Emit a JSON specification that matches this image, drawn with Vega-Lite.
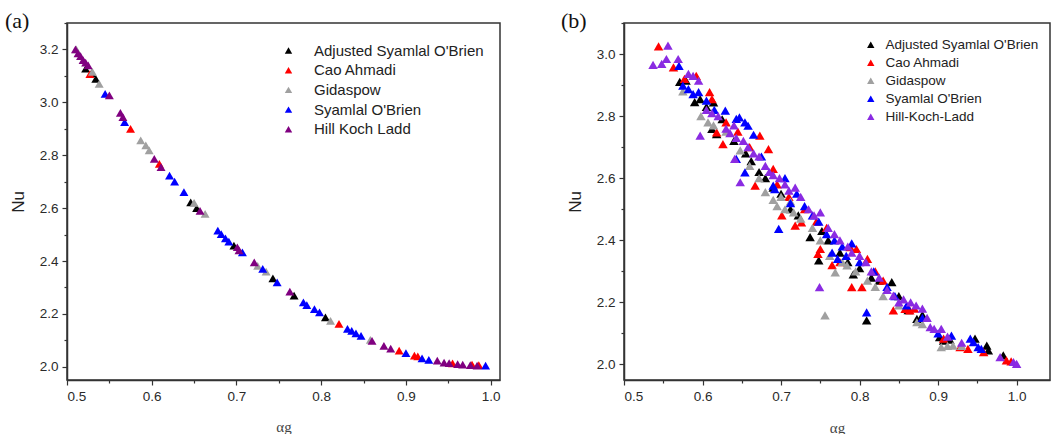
{
  "$schema": "https://vega.github.io/schema/vega-lite/v6.json",
  "background": "white",
  "padding": {"left": 4, "top": 9, "right": 0, "bottom": 0},
  "bounds": "flush",
  "spacing": 124,
  "config": {
    "view": {"stroke": "#333", "strokeWidth": 1.5},
    "axis": {
      "grid": false, "domainColor": "#333", "domainWidth": 1.5, "tickColor": "#333", "tickWidth": 1.2,
      "labelFont": "Liberation Sans", "labelFontSize": 13.5, "labelColor": "#2a2a2a", "labelPadding": 4,
      "titleFont": "Liberation Sans", "titleColor": "#222"
    },
    "legend": {"labelFont": "Liberation Sans", "labelColor": "#222", "padding": 0, "symbolType": "triangle-up", "symbolStrokeWidth": 0, "labelLimit": 400}
  },
  "datasets": {
    "a": [
      {"model": "Adjusted Syamlal O'Brien", "alpha": 0.522, "Nu": 3.127},
      {"model": "Adjusted Syamlal O'Brien", "alpha": 0.529, "Nu": 3.11},
      {"model": "Adjusted Syamlal O'Brien", "alpha": 0.534, "Nu": 3.089},
      {"model": "Adjusted Syamlal O'Brien", "alpha": 0.646, "Nu": 2.622},
      {"model": "Adjusted Syamlal O'Brien", "alpha": 0.653, "Nu": 2.6},
      {"model": "Adjusted Syamlal O'Brien", "alpha": 0.697, "Nu": 2.458},
      {"model": "Adjusted Syamlal O'Brien", "alpha": 0.743, "Nu": 2.334},
      {"model": "Adjusted Syamlal O'Brien", "alpha": 0.768, "Nu": 2.269},
      {"model": "Adjusted Syamlal O'Brien", "alpha": 0.805, "Nu": 2.187},
      {"model": "Cao Ahmadi", "alpha": 0.527, "Nu": 3.107},
      {"model": "Cao Ahmadi", "alpha": 0.575, "Nu": 2.9},
      {"model": "Cao Ahmadi", "alpha": 0.609, "Nu": 2.767},
      {"model": "Cao Ahmadi", "alpha": 0.821, "Nu": 2.162},
      {"model": "Cao Ahmadi", "alpha": 0.892, "Nu": 2.061},
      {"model": "Cao Ahmadi", "alpha": 0.91, "Nu": 2.042},
      {"model": "Cao Ahmadi", "alpha": 0.914, "Nu": 2.039},
      {"model": "Cao Ahmadi", "alpha": 0.955, "Nu": 2.013},
      {"model": "Cao Ahmadi", "alpha": 0.978, "Nu": 2.008},
      {"model": "Cao Ahmadi", "alpha": 0.986, "Nu": 2.006},
      {"model": "Gidaspow", "alpha": 0.511, "Nu": 3.2},
      {"model": "Gidaspow", "alpha": 0.53, "Nu": 3.115},
      {"model": "Gidaspow", "alpha": 0.538, "Nu": 3.07},
      {"model": "Gidaspow", "alpha": 0.587, "Nu": 2.856},
      {"model": "Gidaspow", "alpha": 0.593, "Nu": 2.837},
      {"model": "Gidaspow", "alpha": 0.597, "Nu": 2.818},
      {"model": "Gidaspow", "alpha": 0.65, "Nu": 2.62},
      {"model": "Gidaspow", "alpha": 0.663, "Nu": 2.578},
      {"model": "Gidaspow", "alpha": 0.725, "Nu": 2.382},
      {"model": "Gidaspow", "alpha": 0.735, "Nu": 2.36},
      {"model": "Gidaspow", "alpha": 0.811, "Nu": 2.174},
      {"model": "Gidaspow", "alpha": 0.858, "Nu": 2.102},
      {"model": "Syamlal O'Brien", "alpha": 0.545, "Nu": 3.032},
      {"model": "Syamlal O'Brien", "alpha": 0.568, "Nu": 2.925},
      {"model": "Syamlal O'Brien", "alpha": 0.621, "Nu": 2.723},
      {"model": "Syamlal O'Brien", "alpha": 0.627, "Nu": 2.7},
      {"model": "Syamlal O'Brien", "alpha": 0.638, "Nu": 2.66},
      {"model": "Syamlal O'Brien", "alpha": 0.678, "Nu": 2.515},
      {"model": "Syamlal O'Brien", "alpha": 0.682, "Nu": 2.502},
      {"model": "Syamlal O'Brien", "alpha": 0.687, "Nu": 2.486},
      {"model": "Syamlal O'Brien", "alpha": 0.691, "Nu": 2.473},
      {"model": "Syamlal O'Brien", "alpha": 0.707, "Nu": 2.433},
      {"model": "Syamlal O'Brien", "alpha": 0.731, "Nu": 2.37},
      {"model": "Syamlal O'Brien", "alpha": 0.748, "Nu": 2.319},
      {"model": "Syamlal O'Brien", "alpha": 0.779, "Nu": 2.244},
      {"model": "Syamlal O'Brien", "alpha": 0.783, "Nu": 2.233},
      {"model": "Syamlal O'Brien", "alpha": 0.792, "Nu": 2.218},
      {"model": "Syamlal O'Brien", "alpha": 0.798, "Nu": 2.206},
      {"model": "Syamlal O'Brien", "alpha": 0.831, "Nu": 2.143},
      {"model": "Syamlal O'Brien", "alpha": 0.836, "Nu": 2.136},
      {"model": "Syamlal O'Brien", "alpha": 0.841, "Nu": 2.126},
      {"model": "Syamlal O'Brien", "alpha": 0.847, "Nu": 2.117},
      {"model": "Syamlal O'Brien", "alpha": 0.9, "Nu": 2.052},
      {"model": "Syamlal O'Brien", "alpha": 0.919, "Nu": 2.032},
      {"model": "Syamlal O'Brien", "alpha": 0.927, "Nu": 2.026},
      {"model": "Syamlal O'Brien", "alpha": 0.994, "Nu": 2.004},
      {"model": "Hill Koch Ladd", "alpha": 0.51, "Nu": 3.2},
      {"model": "Hill Koch Ladd", "alpha": 0.513, "Nu": 3.185},
      {"model": "Hill Koch Ladd", "alpha": 0.516, "Nu": 3.175},
      {"model": "Hill Koch Ladd", "alpha": 0.519, "Nu": 3.16},
      {"model": "Hill Koch Ladd", "alpha": 0.522, "Nu": 3.15},
      {"model": "Hill Koch Ladd", "alpha": 0.525, "Nu": 3.14},
      {"model": "Hill Koch Ladd", "alpha": 0.55, "Nu": 3.026},
      {"model": "Hill Koch Ladd", "alpha": 0.563, "Nu": 2.96},
      {"model": "Hill Koch Ladd", "alpha": 0.566, "Nu": 2.944},
      {"model": "Hill Koch Ladd", "alpha": 0.603, "Nu": 2.786},
      {"model": "Hill Koch Ladd", "alpha": 0.611, "Nu": 2.755},
      {"model": "Hill Koch Ladd", "alpha": 0.657, "Nu": 2.59},
      {"model": "Hill Koch Ladd", "alpha": 0.701, "Nu": 2.452},
      {"model": "Hill Koch Ladd", "alpha": 0.703, "Nu": 2.44},
      {"model": "Hill Koch Ladd", "alpha": 0.721, "Nu": 2.395},
      {"model": "Hill Koch Ladd", "alpha": 0.763, "Nu": 2.284},
      {"model": "Hill Koch Ladd", "alpha": 0.86, "Nu": 2.098},
      {"model": "Hill Koch Ladd", "alpha": 0.874, "Nu": 2.079},
      {"model": "Hill Koch Ladd", "alpha": 0.882, "Nu": 2.069},
      {"model": "Hill Koch Ladd", "alpha": 0.937, "Nu": 2.023},
      {"model": "Hill Koch Ladd", "alpha": 0.945, "Nu": 2.016},
      {"model": "Hill Koch Ladd", "alpha": 0.951, "Nu": 2.014},
      {"model": "Hill Koch Ladd", "alpha": 0.961, "Nu": 2.01},
      {"model": "Hill Koch Ladd", "alpha": 0.967, "Nu": 2.008},
      {"model": "Hill Koch Ladd", "alpha": 0.976, "Nu": 2.006},
      {"model": "Hill Koch Ladd", "alpha": 0.984, "Nu": 2.004}
    ],
    "b": [
      {"model": "Adjusted Syamlal O'Brien", "alpha": 0.571, "Nu": 2.91},
      {"model": "Adjusted Syamlal O'Brien", "alpha": 0.579, "Nu": 2.914},
      {"model": "Adjusted Syamlal O'Brien", "alpha": 0.59, "Nu": 2.845},
      {"model": "Adjusted Syamlal O'Brien", "alpha": 0.597, "Nu": 2.855},
      {"model": "Adjusted Syamlal O'Brien", "alpha": 0.605, "Nu": 2.83},
      {"model": "Adjusted Syamlal O'Brien", "alpha": 0.614, "Nu": 2.844},
      {"model": "Adjusted Syamlal O'Brien", "alpha": 0.612, "Nu": 2.759},
      {"model": "Adjusted Syamlal O'Brien", "alpha": 0.618, "Nu": 2.742},
      {"model": "Adjusted Syamlal O'Brien", "alpha": 0.625, "Nu": 2.79},
      {"model": "Adjusted Syamlal O'Brien", "alpha": 0.64, "Nu": 2.72},
      {"model": "Adjusted Syamlal O'Brien", "alpha": 0.655, "Nu": 2.68},
      {"model": "Adjusted Syamlal O'Brien", "alpha": 0.662, "Nu": 2.655},
      {"model": "Adjusted Syamlal O'Brien", "alpha": 0.672, "Nu": 2.62},
      {"model": "Adjusted Syamlal O'Brien", "alpha": 0.68, "Nu": 2.6},
      {"model": "Adjusted Syamlal O'Brien", "alpha": 0.69, "Nu": 2.57},
      {"model": "Adjusted Syamlal O'Brien", "alpha": 0.7, "Nu": 2.55},
      {"model": "Adjusted Syamlal O'Brien", "alpha": 0.712, "Nu": 2.5},
      {"model": "Adjusted Syamlal O'Brien", "alpha": 0.722, "Nu": 2.48},
      {"model": "Adjusted Syamlal O'Brien", "alpha": 0.737, "Nu": 2.41},
      {"model": "Adjusted Syamlal O'Brien", "alpha": 0.748, "Nu": 2.335},
      {"model": "Adjusted Syamlal O'Brien", "alpha": 0.752, "Nu": 2.43},
      {"model": "Adjusted Syamlal O'Brien", "alpha": 0.76, "Nu": 2.4},
      {"model": "Adjusted Syamlal O'Brien", "alpha": 0.775, "Nu": 2.36},
      {"model": "Adjusted Syamlal O'Brien", "alpha": 0.785, "Nu": 2.33},
      {"model": "Adjusted Syamlal O'Brien", "alpha": 0.792, "Nu": 2.29},
      {"model": "Adjusted Syamlal O'Brien", "alpha": 0.8, "Nu": 2.31},
      {"model": "Adjusted Syamlal O'Brien", "alpha": 0.809, "Nu": 2.142},
      {"model": "Adjusted Syamlal O'Brien", "alpha": 0.815, "Nu": 2.28},
      {"model": "Adjusted Syamlal O'Brien", "alpha": 0.825, "Nu": 2.27},
      {"model": "Adjusted Syamlal O'Brien", "alpha": 0.841, "Nu": 2.265},
      {"model": "Adjusted Syamlal O'Brien", "alpha": 0.85, "Nu": 2.22},
      {"model": "Adjusted Syamlal O'Brien", "alpha": 0.862, "Nu": 2.175},
      {"model": "Adjusted Syamlal O'Brien", "alpha": 0.873, "Nu": 2.147},
      {"model": "Adjusted Syamlal O'Brien", "alpha": 0.88, "Nu": 2.16},
      {"model": "Adjusted Syamlal O'Brien", "alpha": 0.902, "Nu": 2.088},
      {"model": "Adjusted Syamlal O'Brien", "alpha": 0.907, "Nu": 2.077},
      {"model": "Adjusted Syamlal O'Brien", "alpha": 0.915, "Nu": 2.08},
      {"model": "Adjusted Syamlal O'Brien", "alpha": 0.947, "Nu": 2.083},
      {"model": "Adjusted Syamlal O'Brien", "alpha": 0.962, "Nu": 2.061},
      {"model": "Adjusted Syamlal O'Brien", "alpha": 0.964, "Nu": 2.045},
      {"model": "Adjusted Syamlal O'Brien", "alpha": 0.983, "Nu": 2.029},
      {"model": "Cao Ahmadi", "alpha": 0.544, "Nu": 3.025},
      {"model": "Cao Ahmadi", "alpha": 0.563, "Nu": 2.957},
      {"model": "Cao Ahmadi", "alpha": 0.577, "Nu": 2.92},
      {"model": "Cao Ahmadi", "alpha": 0.592, "Nu": 2.93},
      {"model": "Cao Ahmadi", "alpha": 0.609, "Nu": 2.877},
      {"model": "Cao Ahmadi", "alpha": 0.612, "Nu": 2.855},
      {"model": "Cao Ahmadi", "alpha": 0.618, "Nu": 2.748},
      {"model": "Cao Ahmadi", "alpha": 0.626, "Nu": 2.71},
      {"model": "Cao Ahmadi", "alpha": 0.63, "Nu": 2.78},
      {"model": "Cao Ahmadi", "alpha": 0.645, "Nu": 2.75},
      {"model": "Cao Ahmadi", "alpha": 0.66, "Nu": 2.7},
      {"model": "Cao Ahmadi", "alpha": 0.667, "Nu": 2.576},
      {"model": "Cao Ahmadi", "alpha": 0.673, "Nu": 2.737},
      {"model": "Cao Ahmadi", "alpha": 0.684, "Nu": 2.694},
      {"model": "Cao Ahmadi", "alpha": 0.69, "Nu": 2.63},
      {"model": "Cao Ahmadi", "alpha": 0.695, "Nu": 2.58},
      {"model": "Cao Ahmadi", "alpha": 0.701, "Nu": 2.48},
      {"model": "Cao Ahmadi", "alpha": 0.71, "Nu": 2.54},
      {"model": "Cao Ahmadi", "alpha": 0.718, "Nu": 2.447},
      {"model": "Cao Ahmadi", "alpha": 0.726, "Nu": 2.458},
      {"model": "Cao Ahmadi", "alpha": 0.73, "Nu": 2.5},
      {"model": "Cao Ahmadi", "alpha": 0.745, "Nu": 2.46},
      {"model": "Cao Ahmadi", "alpha": 0.747, "Nu": 2.356},
      {"model": "Cao Ahmadi", "alpha": 0.75, "Nu": 2.372},
      {"model": "Cao Ahmadi", "alpha": 0.758, "Nu": 2.44},
      {"model": "Cao Ahmadi", "alpha": 0.765, "Nu": 2.32},
      {"model": "Cao Ahmadi", "alpha": 0.775, "Nu": 2.33},
      {"model": "Cao Ahmadi", "alpha": 0.788, "Nu": 2.378},
      {"model": "Cao Ahmadi", "alpha": 0.796, "Nu": 2.372},
      {"model": "Cao Ahmadi", "alpha": 0.79, "Nu": 2.249},
      {"model": "Cao Ahmadi", "alpha": 0.803, "Nu": 2.249},
      {"model": "Cao Ahmadi", "alpha": 0.81, "Nu": 2.34},
      {"model": "Cao Ahmadi", "alpha": 0.82, "Nu": 2.3},
      {"model": "Cao Ahmadi", "alpha": 0.83, "Nu": 2.27},
      {"model": "Cao Ahmadi", "alpha": 0.843, "Nu": 2.174},
      {"model": "Cao Ahmadi", "alpha": 0.858, "Nu": 2.179},
      {"model": "Cao Ahmadi", "alpha": 0.864, "Nu": 2.174},
      {"model": "Cao Ahmadi", "alpha": 0.87, "Nu": 2.18},
      {"model": "Cao Ahmadi", "alpha": 0.907, "Nu": 2.083},
      {"model": "Cao Ahmadi", "alpha": 0.928, "Nu": 2.056},
      {"model": "Cao Ahmadi", "alpha": 0.938, "Nu": 2.05},
      {"model": "Cao Ahmadi", "alpha": 0.958, "Nu": 2.04},
      {"model": "Cao Ahmadi", "alpha": 0.987, "Nu": 2.013},
      {"model": "Cao Ahmadi", "alpha": 0.993, "Nu": 2.01},
      {"model": "Gidaspow", "alpha": 0.575, "Nu": 2.88},
      {"model": "Gidaspow", "alpha": 0.598, "Nu": 2.8},
      {"model": "Gidaspow", "alpha": 0.607, "Nu": 2.78},
      {"model": "Gidaspow", "alpha": 0.614, "Nu": 2.77},
      {"model": "Gidaspow", "alpha": 0.63, "Nu": 2.75},
      {"model": "Gidaspow", "alpha": 0.648, "Nu": 2.69},
      {"model": "Gidaspow", "alpha": 0.66, "Nu": 2.64},
      {"model": "Gidaspow", "alpha": 0.672, "Nu": 2.6},
      {"model": "Gidaspow", "alpha": 0.68, "Nu": 2.555},
      {"model": "Gidaspow", "alpha": 0.69, "Nu": 2.53},
      {"model": "Gidaspow", "alpha": 0.695, "Nu": 2.51},
      {"model": "Gidaspow", "alpha": 0.7, "Nu": 2.54},
      {"model": "Gidaspow", "alpha": 0.705, "Nu": 2.5},
      {"model": "Gidaspow", "alpha": 0.712, "Nu": 2.525},
      {"model": "Gidaspow", "alpha": 0.716, "Nu": 2.49},
      {"model": "Gidaspow", "alpha": 0.725, "Nu": 2.47},
      {"model": "Gidaspow", "alpha": 0.74, "Nu": 2.44},
      {"model": "Gidaspow", "alpha": 0.75, "Nu": 2.4},
      {"model": "Gidaspow", "alpha": 0.756, "Nu": 2.158},
      {"model": "Gidaspow", "alpha": 0.762, "Nu": 2.35},
      {"model": "Gidaspow", "alpha": 0.769, "Nu": 2.297},
      {"model": "Gidaspow", "alpha": 0.778, "Nu": 2.33},
      {"model": "Gidaspow", "alpha": 0.784, "Nu": 2.319},
      {"model": "Gidaspow", "alpha": 0.795, "Nu": 2.3},
      {"model": "Gidaspow", "alpha": 0.81, "Nu": 2.27},
      {"model": "Gidaspow", "alpha": 0.82, "Nu": 2.25},
      {"model": "Gidaspow", "alpha": 0.83, "Nu": 2.22},
      {"model": "Gidaspow", "alpha": 0.85, "Nu": 2.19},
      {"model": "Gidaspow", "alpha": 0.873, "Nu": 2.136},
      {"model": "Gidaspow", "alpha": 0.88, "Nu": 2.13},
      {"model": "Gidaspow", "alpha": 0.904, "Nu": 2.056},
      {"model": "Gidaspow", "alpha": 0.912, "Nu": 2.06},
      {"model": "Gidaspow", "alpha": 0.919, "Nu": 2.061},
      {"model": "Gidaspow", "alpha": 0.93, "Nu": 2.06},
      {"model": "Syamlal O'Brien", "alpha": 0.57, "Nu": 2.962},
      {"model": "Syamlal O'Brien", "alpha": 0.575, "Nu": 2.898},
      {"model": "Syamlal O'Brien", "alpha": 0.582, "Nu": 2.887},
      {"model": "Syamlal O'Brien", "alpha": 0.588, "Nu": 2.871},
      {"model": "Syamlal O'Brien", "alpha": 0.595, "Nu": 2.877},
      {"model": "Syamlal O'Brien", "alpha": 0.605, "Nu": 2.85},
      {"model": "Syamlal O'Brien", "alpha": 0.615, "Nu": 2.82},
      {"model": "Syamlal O'Brien", "alpha": 0.629, "Nu": 2.818},
      {"model": "Syamlal O'Brien", "alpha": 0.643, "Nu": 2.791},
      {"model": "Syamlal O'Brien", "alpha": 0.647, "Nu": 2.796},
      {"model": "Syamlal O'Brien", "alpha": 0.654, "Nu": 2.78},
      {"model": "Syamlal O'Brien", "alpha": 0.658, "Nu": 2.769},
      {"model": "Syamlal O'Brien", "alpha": 0.643, "Nu": 2.662},
      {"model": "Syamlal O'Brien", "alpha": 0.654, "Nu": 2.619},
      {"model": "Syamlal O'Brien", "alpha": 0.665, "Nu": 2.74},
      {"model": "Syamlal O'Brien", "alpha": 0.675, "Nu": 2.67},
      {"model": "Syamlal O'Brien", "alpha": 0.69, "Nu": 2.576},
      {"model": "Syamlal O'Brien", "alpha": 0.692, "Nu": 2.565},
      {"model": "Syamlal O'Brien", "alpha": 0.697, "Nu": 2.437},
      {"model": "Syamlal O'Brien", "alpha": 0.705, "Nu": 2.6},
      {"model": "Syamlal O'Brien", "alpha": 0.712, "Nu": 2.52},
      {"model": "Syamlal O'Brien", "alpha": 0.72, "Nu": 2.55},
      {"model": "Syamlal O'Brien", "alpha": 0.73, "Nu": 2.51},
      {"model": "Syamlal O'Brien", "alpha": 0.74, "Nu": 2.48},
      {"model": "Syamlal O'Brien", "alpha": 0.748, "Nu": 2.46},
      {"model": "Syamlal O'Brien", "alpha": 0.758, "Nu": 2.42},
      {"model": "Syamlal O'Brien", "alpha": 0.765, "Nu": 2.36},
      {"model": "Syamlal O'Brien", "alpha": 0.768, "Nu": 2.4},
      {"model": "Syamlal O'Brien", "alpha": 0.772, "Nu": 2.34},
      {"model": "Syamlal O'Brien", "alpha": 0.778, "Nu": 2.38},
      {"model": "Syamlal O'Brien", "alpha": 0.783, "Nu": 2.35},
      {"model": "Syamlal O'Brien", "alpha": 0.79, "Nu": 2.39},
      {"model": "Syamlal O'Brien", "alpha": 0.8, "Nu": 2.33},
      {"model": "Syamlal O'Brien", "alpha": 0.809, "Nu": 2.168},
      {"model": "Syamlal O'Brien", "alpha": 0.818, "Nu": 2.3},
      {"model": "Syamlal O'Brien", "alpha": 0.835, "Nu": 2.25},
      {"model": "Syamlal O'Brien", "alpha": 0.845, "Nu": 2.22},
      {"model": "Syamlal O'Brien", "alpha": 0.86, "Nu": 2.19},
      {"model": "Syamlal O'Brien", "alpha": 0.88, "Nu": 2.15},
      {"model": "Syamlal O'Brien", "alpha": 0.9, "Nu": 2.1},
      {"model": "Syamlal O'Brien", "alpha": 0.917, "Nu": 2.093},
      {"model": "Syamlal O'Brien", "alpha": 0.941, "Nu": 2.083},
      {"model": "Syamlal O'Brien", "alpha": 0.945, "Nu": 2.072},
      {"model": "Syamlal O'Brien", "alpha": 0.951, "Nu": 2.056},
      {"model": "Syamlal O'Brien", "alpha": 0.955, "Nu": 2.05},
      {"model": "Hill-Koch-Ladd", "alpha": 0.537, "Nu": 2.965},
      {"model": "Hill-Koch-Ladd", "alpha": 0.548, "Nu": 2.968},
      {"model": "Hill-Koch-Ladd", "alpha": 0.554, "Nu": 2.984},
      {"model": "Hill-Koch-Ladd", "alpha": 0.556, "Nu": 3.027},
      {"model": "Hill-Koch-Ladd", "alpha": 0.569, "Nu": 2.984},
      {"model": "Hill-Koch-Ladd", "alpha": 0.582, "Nu": 2.936},
      {"model": "Hill-Koch-Ladd", "alpha": 0.588, "Nu": 2.93},
      {"model": "Hill-Koch-Ladd", "alpha": 0.595, "Nu": 2.914},
      {"model": "Hill-Koch-Ladd", "alpha": 0.597, "Nu": 2.737},
      {"model": "Hill-Koch-Ladd", "alpha": 0.605, "Nu": 2.82},
      {"model": "Hill-Koch-Ladd", "alpha": 0.612, "Nu": 2.81},
      {"model": "Hill-Koch-Ladd", "alpha": 0.62, "Nu": 2.8},
      {"model": "Hill-Koch-Ladd", "alpha": 0.63, "Nu": 2.76},
      {"model": "Hill-Koch-Ladd", "alpha": 0.635, "Nu": 2.745},
      {"model": "Hill-Koch-Ladd", "alpha": 0.64, "Nu": 2.77},
      {"model": "Hill-Koch-Ladd", "alpha": 0.643, "Nu": 2.73},
      {"model": "Hill-Koch-Ladd", "alpha": 0.648, "Nu": 2.587},
      {"model": "Hill-Koch-Ladd", "alpha": 0.641, "Nu": 2.662},
      {"model": "Hill-Koch-Ladd", "alpha": 0.652, "Nu": 2.72},
      {"model": "Hill-Koch-Ladd", "alpha": 0.658, "Nu": 2.7},
      {"model": "Hill-Koch-Ladd", "alpha": 0.665, "Nu": 2.68},
      {"model": "Hill-Koch-Ladd", "alpha": 0.672, "Nu": 2.67},
      {"model": "Hill-Koch-Ladd", "alpha": 0.68, "Nu": 2.64},
      {"model": "Hill-Koch-Ladd", "alpha": 0.685, "Nu": 2.62},
      {"model": "Hill-Koch-Ladd", "alpha": 0.69, "Nu": 2.61},
      {"model": "Hill-Koch-Ladd", "alpha": 0.698, "Nu": 2.6},
      {"model": "Hill-Koch-Ladd", "alpha": 0.705, "Nu": 2.58},
      {"model": "Hill-Koch-Ladd", "alpha": 0.71, "Nu": 2.56},
      {"model": "Hill-Koch-Ladd", "alpha": 0.718, "Nu": 2.57},
      {"model": "Hill-Koch-Ladd", "alpha": 0.725, "Nu": 2.54},
      {"model": "Hill-Koch-Ladd", "alpha": 0.735, "Nu": 2.5},
      {"model": "Hill-Koch-Ladd", "alpha": 0.742, "Nu": 2.48},
      {"model": "Hill-Koch-Ladd", "alpha": 0.75, "Nu": 2.49},
      {"model": "Hill-Koch-Ladd", "alpha": 0.749, "Nu": 2.249},
      {"model": "Hill-Koch-Ladd", "alpha": 0.76, "Nu": 2.44},
      {"model": "Hill-Koch-Ladd", "alpha": 0.768, "Nu": 2.42},
      {"model": "Hill-Koch-Ladd", "alpha": 0.775, "Nu": 2.4},
      {"model": "Hill-Koch-Ladd", "alpha": 0.785, "Nu": 2.38},
      {"model": "Hill-Koch-Ladd", "alpha": 0.79, "Nu": 2.36},
      {"model": "Hill-Koch-Ladd", "alpha": 0.8, "Nu": 2.35},
      {"model": "Hill-Koch-Ladd", "alpha": 0.808, "Nu": 2.33},
      {"model": "Hill-Koch-Ladd", "alpha": 0.815, "Nu": 2.3},
      {"model": "Hill-Koch-Ladd", "alpha": 0.825, "Nu": 2.28},
      {"model": "Hill-Koch-Ladd", "alpha": 0.835, "Nu": 2.24},
      {"model": "Hill-Koch-Ladd", "alpha": 0.843, "Nu": 2.222},
      {"model": "Hill-Koch-Ladd", "alpha": 0.85, "Nu": 2.2},
      {"model": "Hill-Koch-Ladd", "alpha": 0.856, "Nu": 2.21},
      {"model": "Hill-Koch-Ladd", "alpha": 0.865, "Nu": 2.2},
      {"model": "Hill-Koch-Ladd", "alpha": 0.872, "Nu": 2.19},
      {"model": "Hill-Koch-Ladd", "alpha": 0.88, "Nu": 2.18},
      {"model": "Hill-Koch-Ladd", "alpha": 0.886, "Nu": 2.15},
      {"model": "Hill-Koch-Ladd", "alpha": 0.89, "Nu": 2.12},
      {"model": "Hill-Koch-Ladd", "alpha": 0.895, "Nu": 2.115},
      {"model": "Hill-Koch-Ladd", "alpha": 0.904, "Nu": 2.115},
      {"model": "Hill-Koch-Ladd", "alpha": 0.912, "Nu": 2.09},
      {"model": "Hill-Koch-Ladd", "alpha": 0.93, "Nu": 2.07},
      {"model": "Hill-Koch-Ladd", "alpha": 0.979, "Nu": 2.024},
      {"model": "Hill-Koch-Ladd", "alpha": 0.996, "Nu": 2.008},
      {"model": "Hill-Koch-Ladd", "alpha": 1.0, "Nu": 2.002}
    ]
  },
  "resolve": {"scale": {"color": "independent", "x": "independent", "y": "independent"}},
  "hconcat": [
    {
      "width": 433, "height": 357,
      "data": {"name": "a"},
      "title": {"text": "(a)", "anchor": "start", "frame": "group", "font": "Liberation Serif", "fontSize": 22, "fontWeight": "normal", "color": "#111", "baseline": "alphabetic", "dx": -62, "offset": -28},
      "mark": {"type": "point", "shape": "triangle-up", "filled": true, "opacity": 1, "size": 80},
      "encoding": {
        "x": {"field": "alpha", "type": "quantitative", "scale": {"domain": [0.5, 1.011], "nice": false, "zero": false},
          "axis": {"title": "αg", "titleFont": "Liberation Serif", "titleFontSize": 15, "titleFontWeight": "normal", "titleColor": "#444", "titlePadding": 17,
            "values": [0.5, 0.55, 0.6, 0.65, 0.7, 0.75, 0.8, 0.85, 0.9, 0.95, 1.0],
            "labelExpr": "round(datum.value*100) % 10 == 0 ? format(datum.value, '.1f') : ''",
            "tickSize": {"condition": {"test": "round(datum.value*100) % 10 == 0", "value": 5}, "value": 3}}},
        "y": {"field": "Nu", "type": "quantitative", "scale": {"domain": [1.95, 3.3], "nice": false, "zero": false},
          "axis": {"title": "Nu", "titleFontSize": 17, "titleFontWeight": "normal", "titlePadding": 12,
            "values": [2.0, 2.1, 2.2, 2.3, 2.4, 2.5, 2.6, 2.7, 2.8, 2.9, 3.0, 3.1, 3.2, 3.3],
            "labelExpr": "round(datum.value*10) % 2 == 0 ? format(datum.value, '.1f') : ''",
            "tickSize": {"condition": {"test": "round(datum.value*10) % 2 == 0", "value": 5}, "value": 3}}},
        "color": {"field": "model", "type": "nominal",
          "scale": {"domain": ["Adjusted Syamlal O'Brien", "Cao Ahmadi", "Gidaspow", "Syamlal O'Brien", "Hill Koch Ladd"],
            "range": ["#000000", "#ff0000", "#a0a0a0", "#0000ff", "#800080"]},
          "legend": {"title": null, "orient": "none", "legendX": 214, "legendY": 20, "labelFontSize": 15, "symbolSize": 55, "labelOffset": 18, "rowPadding": 3.7}}
      }
    },
    {
      "width": 426, "height": 357,
      "data": {"name": "b"},
      "title": {"text": "(b)", "anchor": "start", "frame": "group", "font": "Liberation Serif", "fontSize": 22, "fontWeight": "normal", "color": "#111", "baseline": "alphabetic", "dx": -63, "offset": -28},
      "mark": {"type": "point", "shape": "triangle-up", "filled": true, "opacity": 1, "size": 90},
      "encoding": {
        "x": {"field": "alpha", "type": "quantitative", "scale": {"domain": [0.5, 1.0425], "nice": false, "zero": false},
          "axis": {"title": "αg", "titleFont": "Liberation Serif", "titleFontSize": 15, "titleFontWeight": "normal", "titleColor": "#444", "titlePadding": 18,
            "values": [0.5, 0.55, 0.6, 0.65, 0.7, 0.75, 0.8, 0.85, 0.9, 0.95, 1.0],
            "labelExpr": "round(datum.value*100) % 10 == 0 ? format(datum.value, '.1f') : ''",
            "tickSize": {"condition": {"test": "round(datum.value*100) % 10 == 0", "value": 5}, "value": 3}}},
        "y": {"field": "Nu", "type": "quantitative", "scale": {"domain": [1.95, 3.1], "nice": false, "zero": false},
          "axis": {"title": "Nu", "titleFontSize": 17, "titleFontWeight": "normal", "titlePadding": 12,
            "values": [2.0, 2.1, 2.2, 2.3, 2.4, 2.5, 2.6, 2.7, 2.8, 2.9, 3.0, 3.1],
            "labelExpr": "round(datum.value*10) % 2 == 0 ? format(datum.value, '.1f') : ''",
            "tickSize": {"condition": {"test": "round(datum.value*10) % 2 == 0", "value": 5}, "value": 3}}},
        "color": {"field": "model", "type": "nominal",
          "scale": {"domain": ["Adjusted Syamlal O'Brien", "Cao Ahmadi", "Gidaspow", "Syamlal O'Brien", "Hill-Koch-Ladd"],
            "range": ["#000000", "#ff0000", "#a0a0a0", "#0000ff", "#8a2be2"]},
          "legend": {"title": null, "orient": "none", "legendX": 240, "legendY": 15, "labelFontSize": 13.5, "symbolSize": 55, "labelOffset": 8, "rowPadding": 3,
            "labelExpr": "(datum.value == 'Hill-Koch-Ladd' || indexof(datum.value, 'Syamlal') == 0) ? '\u00a0' + datum.label : datum.label"}}
      }
    }
  ]
}
